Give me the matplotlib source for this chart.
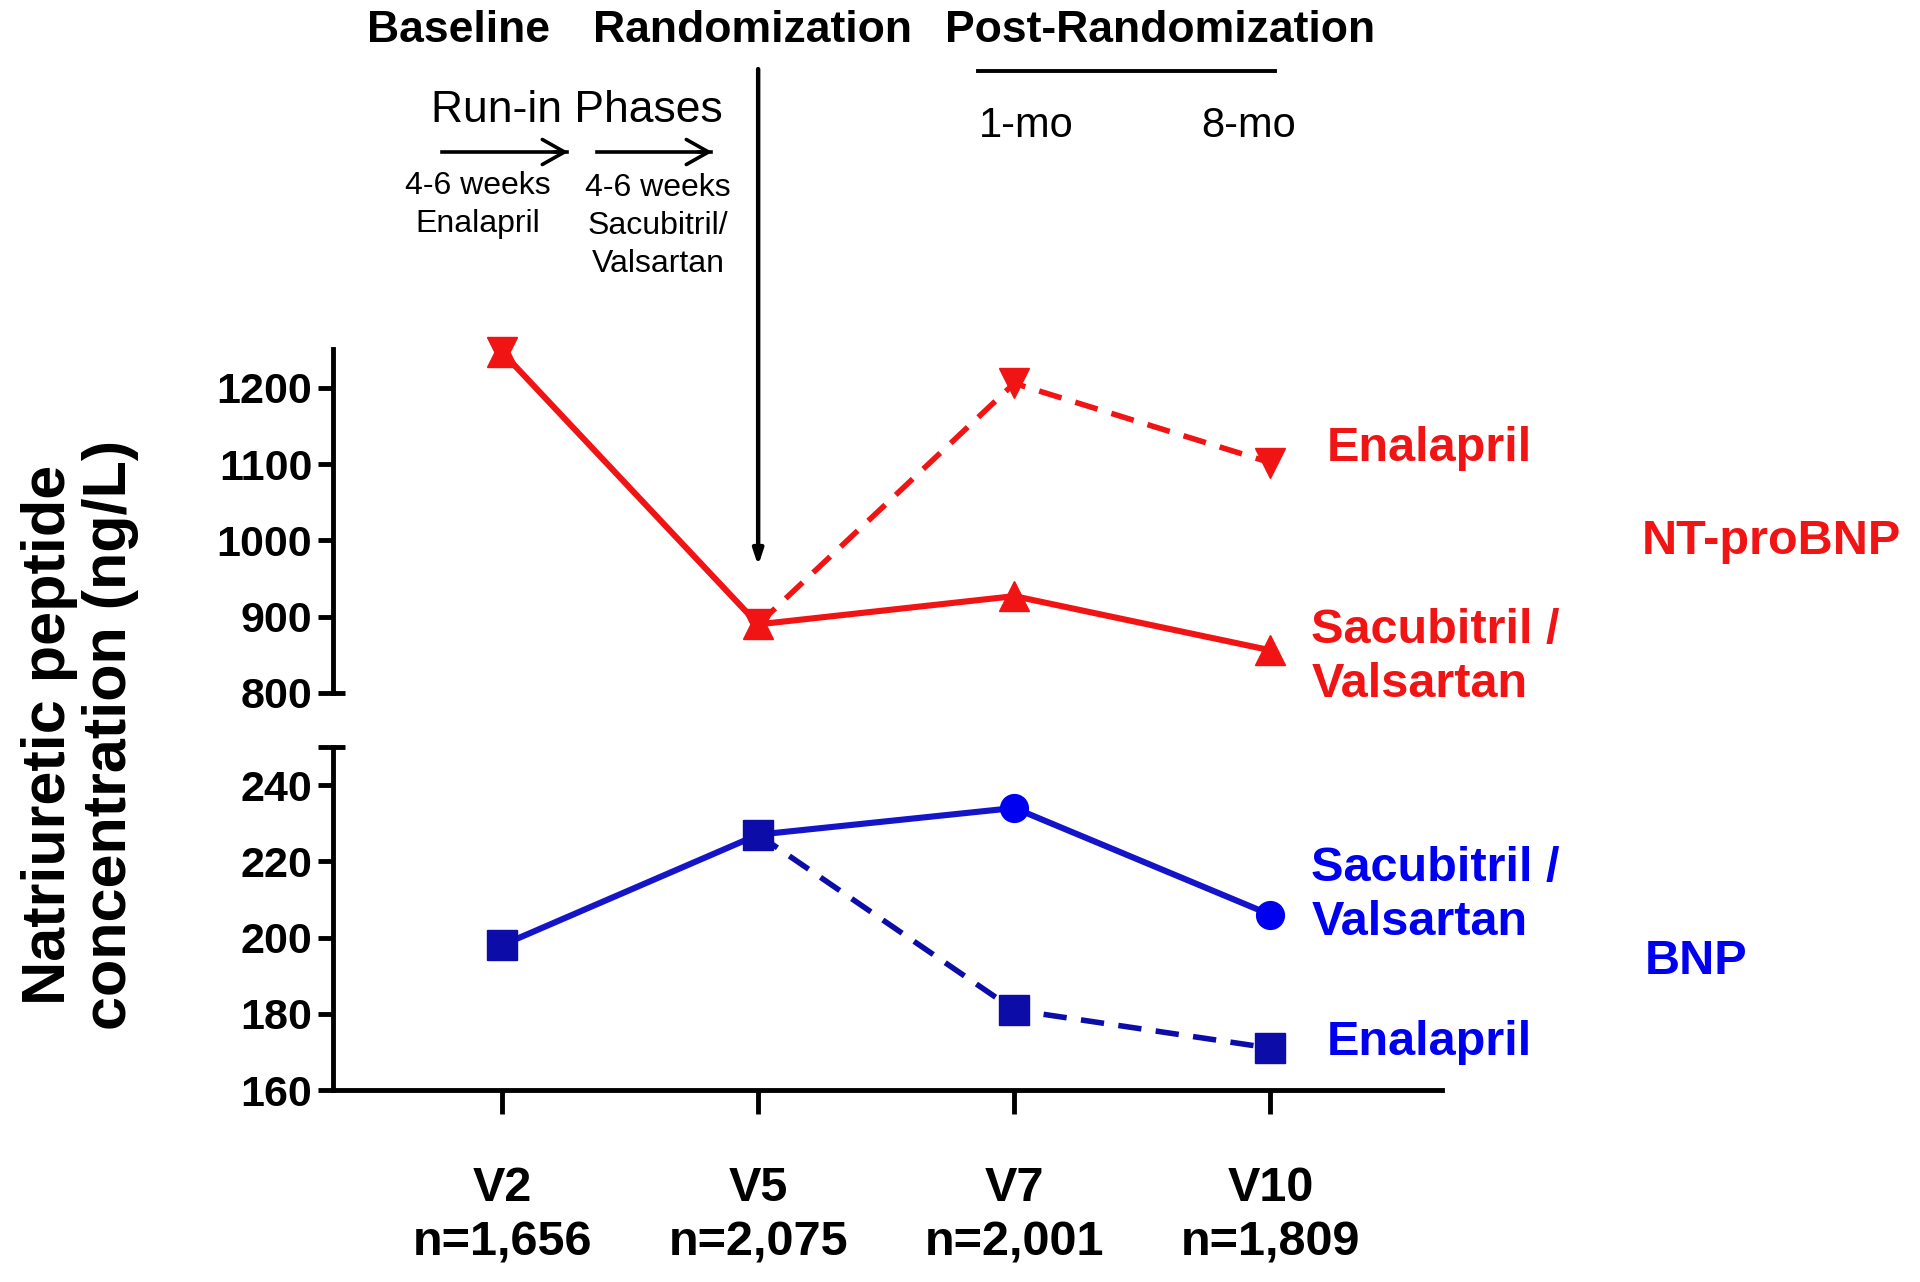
import matplotlib
matplotlib.use("Agg")
import matplotlib.pyplot as plt
import numpy as np

plt.rcParams['font.family'] = ['Liberation Sans', 'DejaVu Sans']

# data
visits = ["V2", "V5", "V7", "V10"]
n_counts = ["n=1,656", "n=2,075", "n=2,001", "n=1,809"]
ntpro_sacval = [1247, 890, 927, 856]
ntpro_enal = [1247, 890, 1206, 1102]
bnp_sacval = [198, 227, 234, 206]
bnp_enal = [198, 227, 181, 171]

RED = '#f01414'
BLUE_TXT = '#0000f0'
BLUE = '#1414c8'
NAVY = '#0c0ca8'
DASH = (0, (4.2, 2.6))

W, H = 1920, 1282
fig = plt.figure(figsize=(W / 100, H / 100), dpi=100)

def fx(px):
    return px / W

def fy(py):
    return 1 - py / H

ax1 = fig.add_axes([fx(333), fy(693), fx(1442) - fx(333), fy(349) - fy(693)])
ax2 = fig.add_axes([fx(333), fy(1090), fx(1442) - fx(333), fy(747) - fy(1090)])

x = np.arange(len(visits))
xlim = (-0.66, 3.67)
px_per_x = (1442 - 333) / (xlim[1] - xlim[0])

# upper panel: NT-proBNP
ax1.plot(x, ntpro_sacval, color=RED, lw=4.4, marker='^', ms=21, clip_on=False, zorder=3)
ax1.plot(x[1:], ntpro_enal[1:], color=RED, lw=4.0, ls=DASH, clip_on=False, zorder=2)
ax1.plot(x, ntpro_enal, color=RED, lw=0, marker='v', ms=21, clip_on=False, zorder=3)
ax1.set_xlim(*xlim)
ax1.set_ylim(800, 1251)
ax1.set_yticks([800, 900, 1000, 1100, 1200])

# lower panel: BNP
ax2.plot(x, bnp_sacval, color=BLUE, lw=4.4, clip_on=False, zorder=2)
ax2.plot(x[2:], bnp_sacval[2:], color=BLUE_TXT, lw=0, marker='o', ms=20, clip_on=False, zorder=3)
ax2.plot(x[1:], bnp_enal[1:], color=NAVY, lw=4.0, ls=DASH, clip_on=False, zorder=2)
ax2.plot(x, bnp_enal, color=NAVY, lw=0, marker='s', ms=21, clip_on=False, zorder=3)
ax2.set_xlim(*xlim)
ax2.set_ylim(160, 250)
ax2.set_yticks([160, 180, 200, 220, 240])
ax2.set_xticks(x)
ax2.set_xticklabels([v + "\n" + n for v, n in zip(visits, n_counts)],
                    fontsize=35, fontweight='bold', linespacing=1.25)

for ax in (ax1, ax2):
    for s in ('top', 'right'):
        ax.spines[s].set_visible(False)
    ax.spines['left'].set_linewidth(3.5)
    ax.spines['bottom'].set_linewidth(3.5)
    ax.tick_params(axis='y', length=11, width=3.5, labelsize=31, pad=4)
    for lbl in ax.get_yticklabels():
        lbl.set_fontweight('bold')
    ax.set_facecolor('none')

ax1.spines['bottom'].set_visible(False)
ax1.set_xticks([])
ax2.tick_params(axis='x', length=17, width=3.5, pad=38)

# axis-break caps
d_right = 12 / px_per_x
d_left = 15 / px_per_x
ax1.plot([xlim[0], xlim[0] + d_right], [800, 800], color='black', lw=3.5, clip_on=False, solid_capstyle='butt')
ax2.plot([xlim[0] - d_left, xlim[0] + d_right], [250, 250], color='black', lw=3.5, clip_on=False, solid_capstyle='butt')

# series labels
lab_kw = dict(fontsize=35, fontweight='bold', va='center', ha='left', linespacing=1.25)
ax1.text(3.22, 1121, "Enalapril", color=RED, **lab_kw)
ax1.text(3.16, 847, "Sacubitril /\nValsartan", color=RED, **lab_kw)
ax1.text(4.45, 998, "NT-proBNP", color=RED, **lab_kw)
ax2.text(3.16, 211, "Sacubitril /\nValsartan", color=BLUE_TXT, **lab_kw)
ax2.text(4.46, 193.7, "BNP", color=BLUE_TXT, **lab_kw)
ax2.text(3.22, 172.5, "Enalapril", color=BLUE_TXT, **lab_kw)

# y label
fig.text(fx(80), fy(735), "Natriuretic peptide\nconcentration (ng/L)", rotation=90,
         ha='center', va='center', fontsize=44, fontweight='bold', linespacing=1.08)

# randomization arrow
ax1.annotate("", xy=(1, 967), xytext=(1, 1618), textcoords='data', annotation_clip=False,
             arrowprops=dict(arrowstyle='-|>,head_length=0.9,head_width=0.3', lw=3.2, color='black',
                             shrinkA=0, shrinkB=0))

# top phase headers
fig.text(fx(459), fy(31), "Baseline", ha='center', va='center', fontsize=32, fontweight='bold')
fig.text(fx(752), fy(31), "Randomization", ha='center', va='center', fontsize=32, fontweight='bold')
fig.text(fx(1160), fy(31), "Post-Randomization", ha='center', va='center', fontsize=32, fontweight='bold')
fig.add_artist(plt.Line2D([fx(978), fx(1275)], [fy(71), fy(71)], color='black', lw=2.8))
fig.text(fx(1026), fy(126), "1-mo", ha='center', va='center', fontsize=30)
fig.text(fx(1249), fy(126), "8-mo", ha='center', va='center', fontsize=30)

fig.text(fx(577), fy(110), "Run-in Phases", ha='center', va='center', fontsize=32)
for x0, x1 in [(442, 571), (597, 715)]:
    fig.add_artist(plt.Line2D([fx(x0), fx(x1) - 0.002], [fy(152), fy(152)], color='black', lw=2.6))
    fig.patches.append(matplotlib.patches.FancyArrowPatch(
        (fx(x1) - 0.01, fy(152)), (fx(x1), fy(152)), transform=fig.transFigure,
        arrowstyle='->,head_length=0.8,head_width=0.45', lw=2.6, color='black', mutation_scale=20))

fig.text(fx(478), fy(205), "4-6 weeks\nEnalapril", ha='center', va='center', fontsize=23, linespacing=1.35)
fig.text(fx(658), fy(226), "4-6 weeks\nSacubitril/\nValsartan", ha='center', va='center', fontsize=23, linespacing=1.35)

fig.savefig("out.png", dpi=100)
